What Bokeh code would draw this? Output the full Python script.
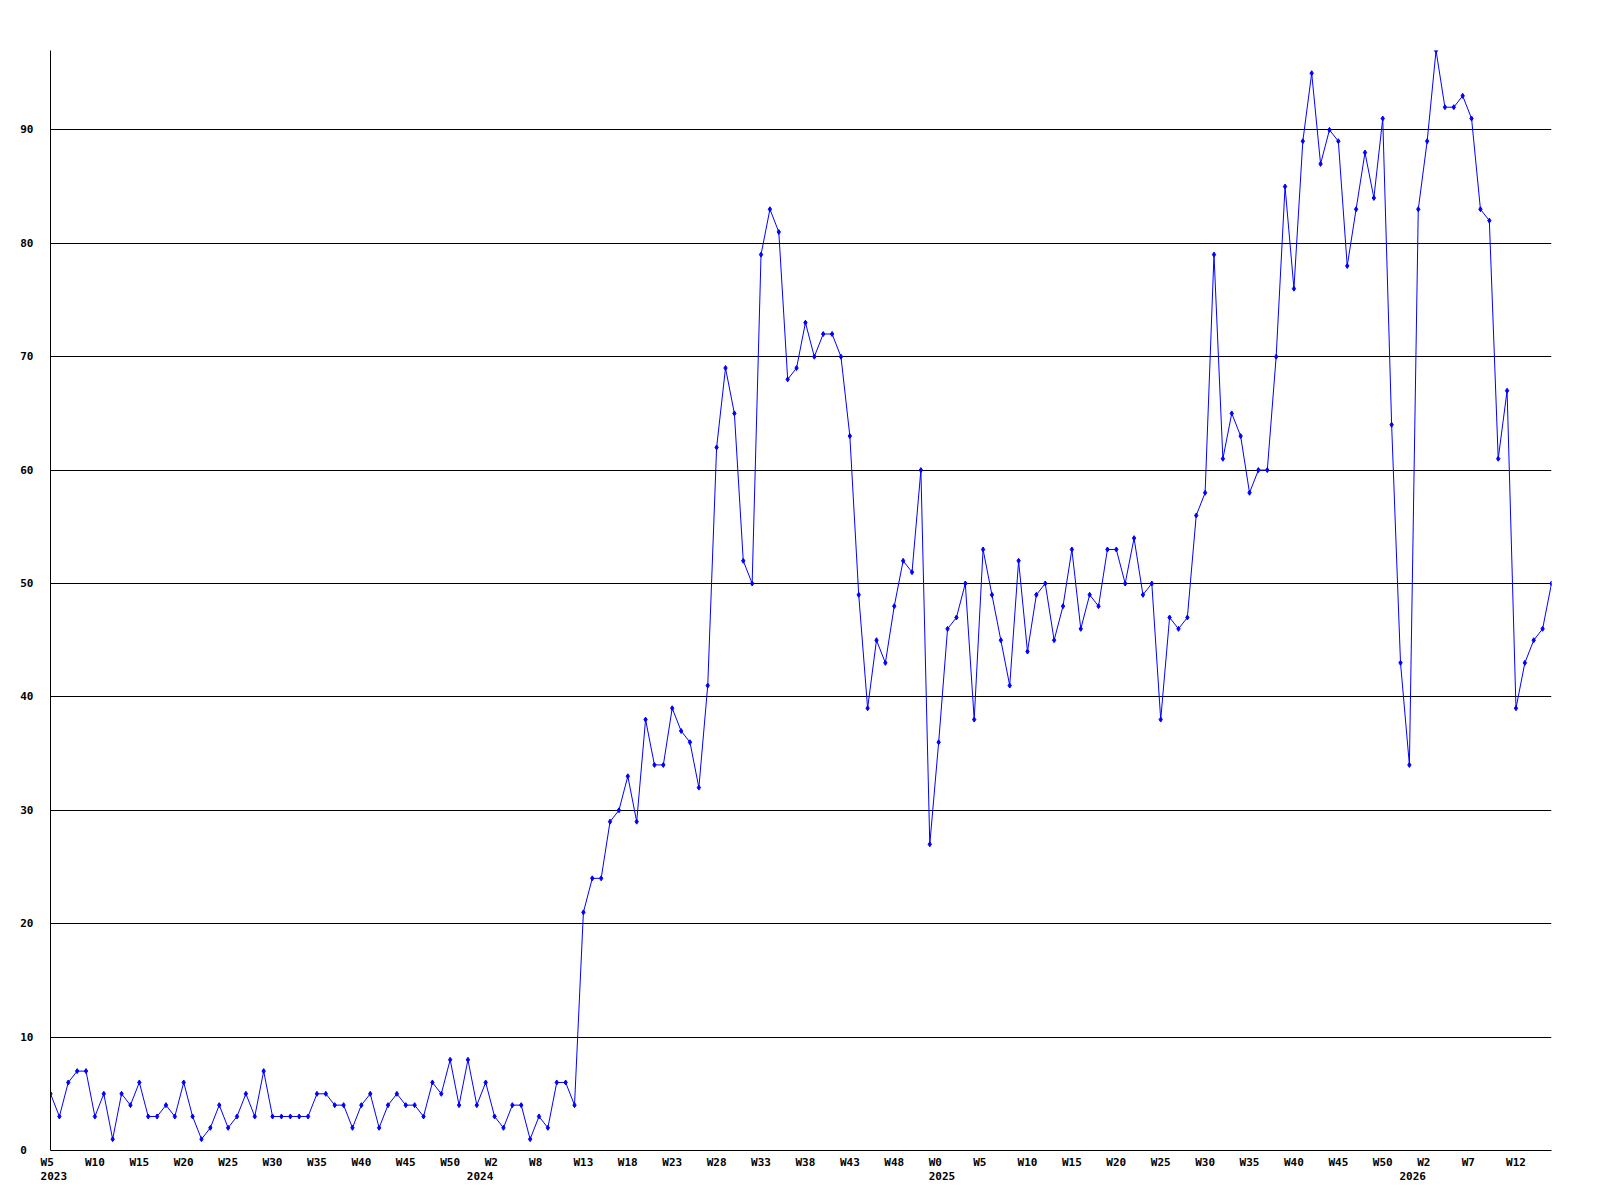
from bokeh.plotting import figure
from bokeh.models import ColumnDataSource, Range1d, FixedTicker, LinearAxis, Grid
from bokeh.embed import file_html
from bokeh.resources import INLINE

# ---- data (weekly counts, W5 2023 .. W16 2026) ----
values_2023 = [5, 3, 6, 7, 7, 3, 5, 1, 5, 4, 6, 3, 3, 4, 3, 6, 3, 1, 2, 4,
               2, 3, 5, 3, 7, 3, 3, 3, 3, 3, 5, 5, 4, 4, 2, 4, 5, 2, 4, 5,
               4, 4, 3, 6, 5, 8, 4, 8]
values_2024 = [4, 6, 3, 2, 4, 4, 1, 3, 2, 6, 6, 4, 21, 24, 24, 29, 30, 33, 29, 38,
               34, 34, 39, 37, 36, 32, 41, 62, 69, 65, 52, 50, 79, 83, 81, 68, 69, 73, 70, 72,
               72, 70, 63, 49, 39, 45, 43, 48, 52, 51, 60, 27]
values_2025 = [36, 46, 47, 50, 38, 53, 49, 45, 41, 52, 44, 49, 50, 45, 48, 53, 46, 49, 48, 53,
               53, 50, 54, 49, 50, 38, 47, 46, 47, 56, 58, 79, 61, 65, 63, 58, 60, 60, 70, 85,
               76, 89, 95, 87, 90, 89, 78, 83, 88, 84, 91, 64, 43]
values_2026 = [34, 83, 89, 97, 92, 92, 93, 91, 83, 82, 61, 67, 39, 43, 45, 46, 50]

week_labels = ["W5", "W10", "W15", "W20", "W25", "W30", "W35", "W40", "W45", "W50",
               "W2", "W8", "W13", "W18", "W23", "W28", "W33", "W38", "W43", "W48",
               "W0", "W5", "W10", "W15", "W20", "W25", "W30", "W35", "W40", "W45",
               "W50", "W2", "W7", "W12"]
year_labels = ["2023", "2024", "2025", "2026"]
y_tick_values = [0, 10, 20, 30, 40, 50, 60, 70, 80, 90]

values = values_2023 + values_2024 + values_2025 + values_2026
xs = list(range(len(values)))
label_step = 5
tick_idx = [i * label_step for i in range(len(week_labels))]
year_idx = [0, len(values_2023), len(values_2023) + len(values_2024),
            len(values_2023) + len(values_2024) + len(values_2025)]

NB = "\u00a0"
FONT = "DejaVu Sans Mono"


def pad_week(s):
    # labels are drawn as 3-character cells starting just left of the tick
    return s + NB * (3 - len(s))


p = figure(width=1600, height=1200, output_backend="svg", toolbar_location=None,
           x_range=Range1d(0, len(values) - 1), y_range=Range1d(0, max(values)),
           x_axis_type=None, y_axis_type=None,
           min_border_left=50, min_border_right=49, min_border_top=50, min_border_bottom=50)
p.outline_line_color = None
p.background_fill_color = "white"
p.border_fill_color = "white"


def style_axis(ax, standoff):
    ax.axis_line_color = "black"
    ax.axis_line_width = 1
    ax.major_tick_line_color = None
    ax.minor_tick_line_color = None
    ax.major_tick_out = 0
    ax.major_tick_in = 0
    ax.minor_tick_out = 0
    ax.minor_tick_in = 0
    ax.major_label_standoff = standoff
    ax.major_label_text_font = FONT
    ax.major_label_text_font_style = "bold"
    ax.major_label_text_font_size = "11px"
    ax.major_label_text_color = "black"


xaxis = LinearAxis(ticker=FixedTicker(ticks=tick_idx),
                   major_label_overrides={t: pad_week(s) for t, s in zip(tick_idx, week_labels)})
style_axis(xaxis, 5)
p.add_layout(xaxis, "below")

yearaxis = LinearAxis(ticker=FixedTicker(ticks=year_idx),
                      major_label_overrides={t: NB + s for t, s in zip(year_idx, year_labels)})
style_axis(yearaxis, -2)
yearaxis.axis_line_color = None
p.add_layout(yearaxis, "below")

yaxis = LinearAxis(ticker=FixedTicker(ticks=y_tick_values),
                   major_label_overrides={v: str(v) + NB * (2 - len(str(v))) for v in y_tick_values})
style_axis(yaxis, 17)
p.add_layout(yaxis, "left")

p.add_layout(Grid(dimension=1, ticker=FixedTicker(ticks=y_tick_values),
                  grid_line_color="black", grid_line_width=1, grid_line_alpha=1.0))

src = ColumnDataSource(dict(x=xs, y=values))
p.line("x", "y", source=src, line_color="#0000ff", line_width=1)
p.scatter("x", "y", source=src, marker="diamond", size=5, fill_color="#0000ff",
          line_color="#0000ff")

open("out.html", "w").write(file_html(p, INLINE))
